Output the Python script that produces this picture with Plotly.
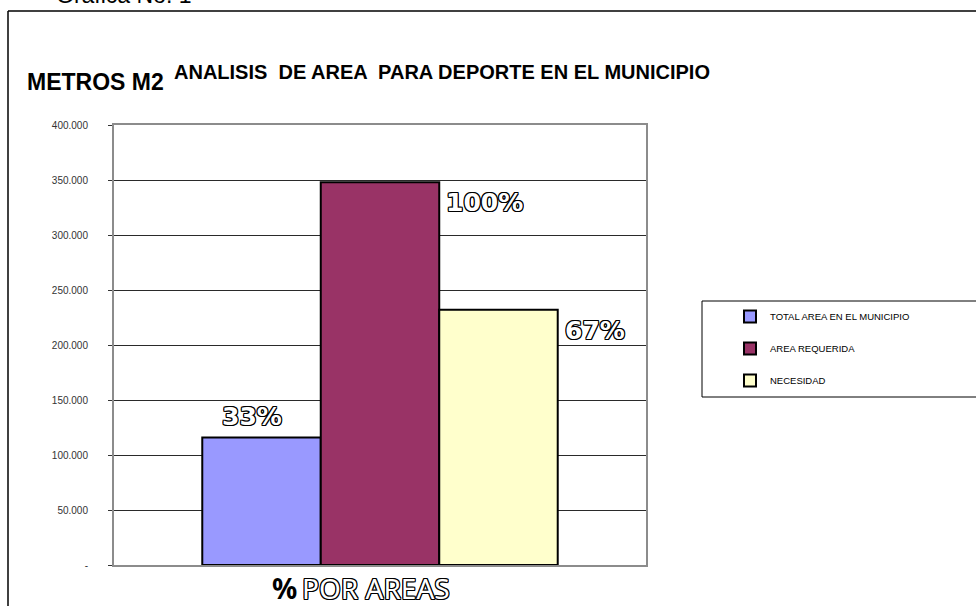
import plotly.graph_objects as go

# ---- data ----
series_names = ["TOTAL AREA EN EL MUNICIPIO", "AREA REQUERIDA", "NECESIDAD"]
series_values = [116000, 348000, 232000]
series_colors = ["#9999FF", "#993366", "#FFFFCC"]
y_tick_values = [0, 50000, 100000, 150000, 200000, 250000, 300000, 350000, 400000]
y_tick_labels = ["-", "50.000", "100.000", "150.000", "200.000", "250.000",
                 "300.000", "350.000", "400.000"]
x_axis_label_pct = "%"
x_axis_label_text = "POR AREAS"
chart_title = "ANALISIS  DE AREA  PARA DEPORTE EN EL MUNICIPIO"
y_title = "METROS M2"
header_text = "Gráfica No. 1"

W, H = 976, 606
L, R, T, B = 114, 330, 125, 41
PW, PH = W - L - R, H - T - B


def px(x):
    return (x - L) / PW


def py(y):
    return (H - B - y) / PH


SANS = "Liberation Sans, Arial, sans-serif"
NOTO = "Noto Sans, Liberation Sans, sans-serif"
OUTLINE = ("1px 1px 0 #000, -1px -1px 0 #000, 1px -1px 0 #000, -1px 1px 0 #000, "
           "1px 0 0 #000, -1px 0 0 #000, 0 1px 0 #000, 0 -1px 0 #000")

fig = go.Figure()
for i, (n, v, c) in enumerate(zip(series_names, series_values, series_colors)):
    fig.add_trace(go.Bar(
        x=[i], y=[v], width=1, name=n, legendgroup=n,
        marker=dict(color=c, line=dict(color="#000000", width=2)),
        hoverinfo="name+y",
    ))

vmax = max(series_values)
pct_font = dict(family="DejaVu Sans, sans-serif", size=25, color="#ffffff",
                weight="bold", shadow=OUTLINE)
annotations = []
for i, v in enumerate(series_values):
    pct = f"{round(v / vmax * 100)}%"
    if i == 0:
        annotations.append(dict(x=i - 0.08, y=v, xref="x", yref="y", text=pct,
                                showarrow=False, xanchor="center", yanchor="bottom", yshift=4,
                                font=pct_font))
    else:
        annotations.append(dict(x=i + 0.5, y=v, xref="x", yref="y", text=pct,
                                showarrow=False, xanchor="left", yanchor="top", xshift=5, yshift=-4,
                                font=pct_font))

annotations += [
    dict(x=px(54), y=py(10), xref="paper", yref="paper", text=header_text, showarrow=False,
         xanchor="left", yanchor="bottom", font=dict(family=SANS, size=23, color="#000")),
    dict(x=px(25), y=py(82), xref="paper", yref="paper", text=y_title, showarrow=False,
         xanchor="left", yanchor="middle", font=dict(family=SANS, size=23, color="#000", weight="bold")),
    dict(x=px(172), y=py(72), xref="paper", yref="paper", text=chart_title, showarrow=False,
         xanchor="left", yanchor="middle", font=dict(family=SANS, size=20, color="#000", weight="bold")),
    dict(x=px(284), y=py(588), xref="paper", yref="paper", text=x_axis_label_pct, showarrow=False,
         xanchor="center", yanchor="middle", font=dict(family=NOTO, size=28, color="#000", weight="bold")),
    dict(x=px(300), y=py(588), xref="paper", yref="paper", text=x_axis_label_text, showarrow=False,
         xanchor="left", yanchor="middle", font=dict(family=NOTO, size=28, color="#fff", shadow=OUTLINE)),
]

shapes = [
    # outer frame (left and top)
    dict(type="line", xref="paper", yref="paper", x0=px(8), x1=px(8), y0=py(11), y1=py(620),
         line=dict(color="#000", width=1.5)),
    dict(type="line", xref="paper", yref="paper", x0=px(8), x1=px(990), y0=py(11), y1=py(11),
         line=dict(color="#000", width=1.5)),
    # legend box
    dict(type="rect", xref="paper", yref="paper", x0=px(702), x1=px(1000), y0=py(301), y1=py(397),
         line=dict(color="#000", width=1), fillcolor="rgba(0,0,0,0)"),
]

fig.update_layout(
    width=W, height=H,
    margin=dict(l=L, r=R, t=T, b=B, pad=0),
    paper_bgcolor="#ffffff", plot_bgcolor="#ffffff",
    barmode="overlay",
    showlegend=True,
    legend=dict(x=px(730), y=py(302), xanchor="left", yanchor="top",
                font=dict(family=SANS, size=9.5, color="#000"),
                bgcolor="rgba(0,0,0,0)", borderwidth=0,
                tracegroupgap=13, itemwidth=30, traceorder="grouped"),
    xaxis=dict(range=[-1.245, 3.245], showticklabels=False, showgrid=False, zeroline=False,
               showline=True, linecolor="#8c8c8c", linewidth=2, mirror=True, ticks="",
               fixedrange=True),
    yaxis=dict(range=[0, 400000], tickvals=y_tick_values, ticktext=y_tick_labels,
               showgrid=True, gridcolor="#2a2a2a", gridwidth=1, zeroline=False,
               showline=True, linecolor="#8c8c8c", linewidth=2, mirror=True,
               ticks="outside", ticklen=4, tickcolor="#333", tickwidth=1,
               ticklabelstandoff=18,
               tickfont=dict(family=SANS, size=10, color="#333"), fixedrange=True),
    annotations=annotations,
    shapes=shapes,
)

fig.write_html("out.html", config={"displayModeBar": False},
               post_script="document.body.style.margin='0';document.body.style.overflow='hidden';")
